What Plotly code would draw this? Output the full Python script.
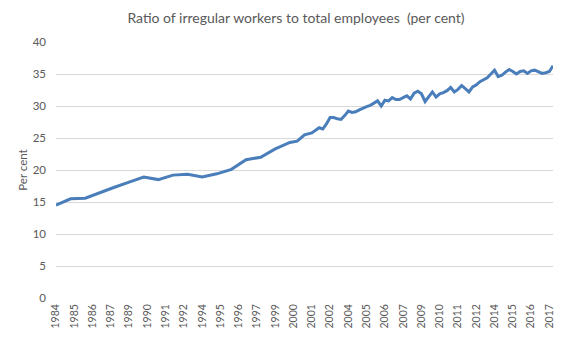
import plotly.graph_objects as go

# Share of irregular (non-regular) workers in total employees, per cent
years_annual = [1984, 1985, 1986, 1987, 1988, 1989, 1990, 1991, 1992, 1993,
                1994, 1995, 1996, 1997, 1998, 1999]
ratio_annual = [14.5, 15.5, 15.6, 16.5, 17.3, 18.1, 18.9, 18.5, 19.2, 19.35,
                18.9, 19.4, 20.1, 21.6, 22.0, 23.3]

# Half-yearly observations
halfyears = [2000.0, 2000.5, 2001.0, 2001.5]
ratio_half = [24.3, 24.5, 25.5, 25.8]

# Quarterly observations, 2002 Q1 onwards
quarterly_start = 2002
ratio_quarterly = [
    26.6, 26.4, 27.2, 28.2,
    28.2, 28.0, 27.9, 28.5,
    29.2, 29.0, 29.1, 29.4,
    29.7, 29.9, 30.1, 30.5,
    30.8, 30.0, 30.9, 30.8,
    31.3, 31.0, 31.0, 31.3,
    31.6, 31.1, 32.0, 32.3,
    31.9, 30.7, 31.4, 32.2,
    31.4, 31.9, 32.1, 32.4,
    32.9, 32.2, 32.6, 33.2,
    32.7, 32.2, 33.0, 33.3,
    33.8, 34.1, 34.4, 35.0,
    35.6, 34.6, 34.8, 35.3,
    35.7, 35.4, 35.0, 35.4,
    35.5, 35.1, 35.5, 35.6,
    35.3, 35.1, 35.2, 35.4,
    36.3,
]

# Category labels shown along the time axis (one every five quarters)
tick_labels = ["1984", "1985", "1986", "1987", "1989", "1990", "1991", "1992",
               "1994", "1995", "1996", "1997", "1999", "2000", "2001", "2002",
               "2004", "2005", "2006", "2007", "2009", "2010", "2011", "2012",
               "2014", "2015", "2016", "2017"]

quarters = [quarterly_start + k / 4 for k in range(len(ratio_quarterly))]
x = years_annual + halfyears + quarters
y = ratio_annual + ratio_half + ratio_quarterly

tick_pos = [1984 + 1.25 * i for i in range(len(tick_labels))]

FONT = "Lato, Open Sans, sans-serif"
GREY = "#595959"

fig = go.Figure(
    go.Scatter(
        x=x, y=y, mode="lines",
        line=dict(color="#4A7EBB", width=3, shape="linear"),
        hoverinfo="skip",
    )
)

fig.update_layout(
    width=567, height=340,
    margin=dict(l=56, r=14, t=42, b=39),
    paper_bgcolor="white", plot_bgcolor="white",
    showlegend=False,
    title=dict(
        text="Ratio of irregular workers to total employees  (per cent)",
        x=0.522, xanchor="center", y=0.948, yanchor="middle",
        font=dict(family=FONT, size=14, color=GREY),
    ),
    font=dict(family=FONT, color=GREY),
)

fig.update_xaxes(
    range=[1984, 2018],
    tickmode="array", tickvals=tick_pos, ticktext=tick_labels,
    tickangle=-90, tickfont=dict(size=10.5, color=GREY),
    showgrid=False, zeroline=False, showline=False, ticks="",
    ticklabelstandoff=3,
)

fig.update_yaxes(
    range=[0, 40], dtick=5, tick0=0,
    showgrid=True, gridcolor="#D9D9D9", gridwidth=1,
    zeroline=False, showline=False, ticks="",
    tickfont=dict(size=11.5, color=GREY),
    ticklabelstandoff=9,
    title=dict(text="Per cent", font=dict(size=11.5, color=GREY), standoff=2),
)

fig.write_html("out.html")
